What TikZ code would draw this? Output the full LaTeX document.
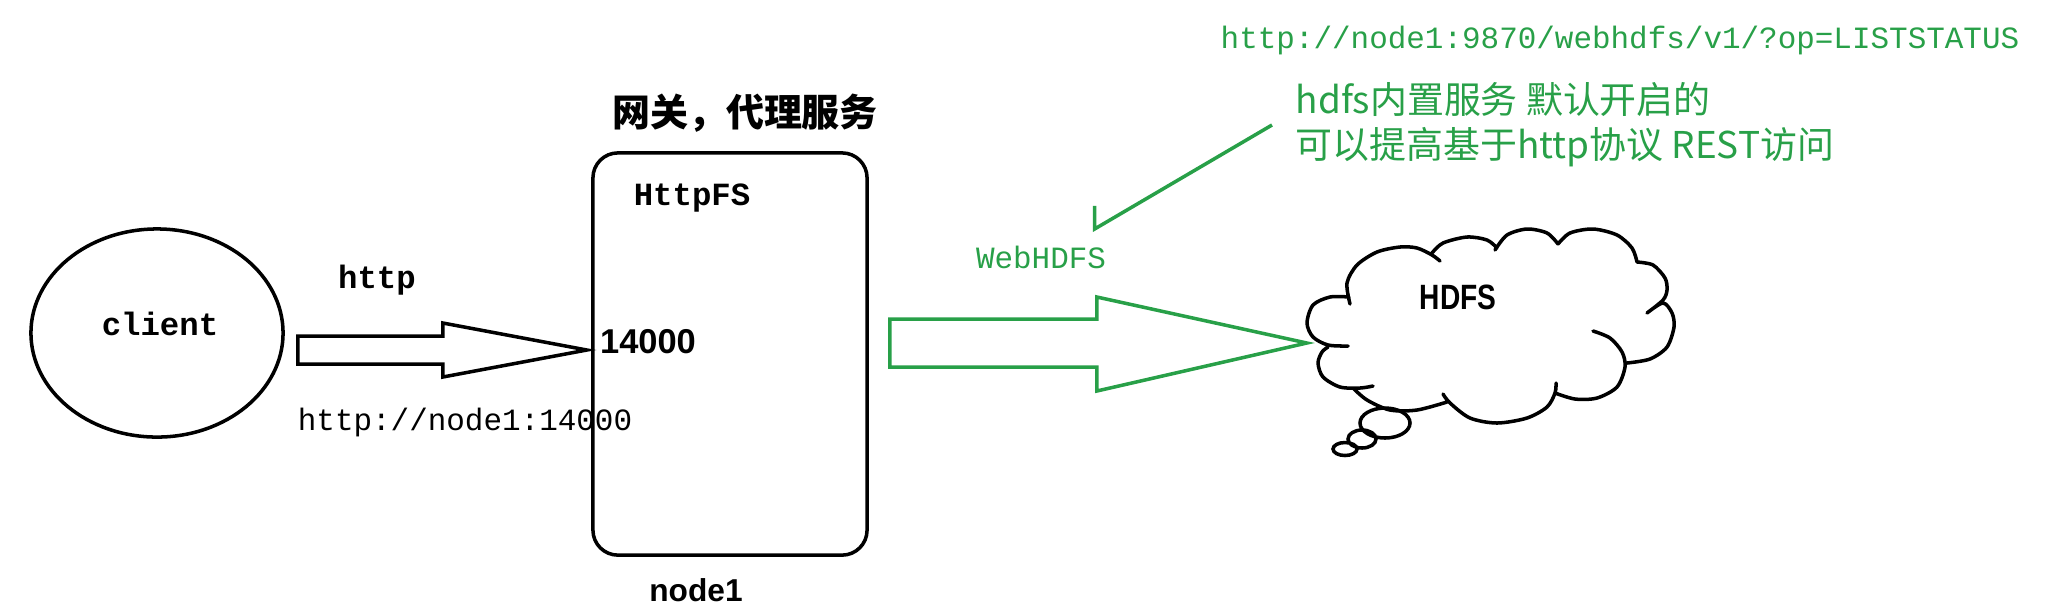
\documentclass[tikz,border=0pt]{standalone}
\usepackage{fontspec}
\setsansfont{Liberation Sans}
\setmonofont{Liberation Mono}
\newfontfamily\cjk{Noto Sans CJK SC}
\usetikzlibrary{shapes.geometric, calc}
\definecolor{webgreen}{RGB}{40,160,72}

\tikzset{
  outline/.style={draw, line width=1pt},
  monob/.style={font=\fontsize{9.2}{10}\selectfont\ttfamily\bfseries, inner sep=0pt},
  mono/.style={font=\fontsize{8.8}{10}\selectfont\ttfamily, inner sep=0pt},
  sansb/.style={font=\fontsize{9.8}{11}\selectfont\sffamily\bfseries, inner sep=0pt},
  greentxt/.style={text=webgreen, inner sep=0pt},
  fatarrow/.style={line width=1pt, line join=miter},
}

\begin{document}
\begin{tikzpicture}[x=0.01cm, y=-0.01cm]
    \useasboundingbox (0,0) rectangle (2046,614);

    % client side
    \node[outline, ellipse, minimum width=2.52cm, minimum height=2.08cm] (client) at (157,333) {};
    \node[monob] (clientlbl) at (160,324) {client};
    \node[monob] (proto) at (377,280) {http};
    \node[mono] (gwurl) at (465,422) {http://node1:14000};

    % gateway
    \node[outline, rounded corners=0.25cm, minimum width=2.74cm, minimum height=4.02cm] (gw) at (730,354) {};
    \node[font=\fontsize{10.8}{12}\selectfont\cjk\bfseries, inner sep=0pt] (gwtitle) at (745,113) {网关，代理服务};
    \node[monob] (httpfs) at (692,198) {HttpFS};
    \node[sansb] (port) at (648,342) {14000};
    \node[sansb, font=\fontsize{9}{10}\selectfont\sffamily\bfseries] (host) at (696,590) {node1};

    \coordinate (t1) at ($(client.east)+(13,3)$);
    \draw[fatarrow] (t1) -- ++(145,0) -- ++(0,-13) -- ++(144,27) -- ++(-144,27)
        -- ++(0,-13) -- ++(-145,0) -- cycle;

    % hdfs cloud, bump by bump
    \draw[line width=1pt, line cap=round]
        plot[smooth] coordinates {(1440,261) (1432,255) (1417,248) (1400,247) (1377,252) (1357,265) (1347,283) (1350,304)}
        plot[smooth] coordinates {(1349,297) (1330,297) (1313,305) (1307,323) (1313,337) (1328,345) (1348,346)}
        plot[smooth] coordinates {(1328,347) (1322,352) (1318,363) (1323,377) (1340,387) (1360,388) (1373,386)}
        plot[smooth] coordinates {(1353,388) (1367,400) (1390,410) (1417,410) (1447,402)}
        plot[smooth] coordinates {(1443,394) (1450,403) (1470,418) (1497,423) (1527,418) (1547,407) (1555,393) (1556,383)}
        plot[smooth] coordinates {(1593,331) (1610,338) (1622,352) (1625,367) (1617,387) (1597,398) (1575,399) (1555,393)}
        plot[smooth] coordinates {(1647,313) (1663,303) (1672,313) (1674,327) (1667,347) (1650,359) (1627,363)}
        plot[smooth] coordinates {(1637,262) (1653,265) (1665,278) (1667,290) (1663,300) (1647,313)}
        plot[smooth] coordinates {(1558,244) (1570,233) (1593,229) (1617,235) (1632,248) (1637,262)}
        plot[smooth] coordinates {(1495,250) (1507,235) (1527,229) (1547,233) (1558,244)}
        plot[smooth] coordinates {(1432,253) (1443,243) (1467,237) (1487,240) (1497,248)};
    \draw[line width=1pt] (1385,423) ellipse [x radius=25, y radius=15]
        (1362,439) ellipse [x radius=14, y radius=9]
        (1345,449) ellipse [x radius=12, y radius=6.5];
    \node[font=\fontsize{10}{11}\selectfont\sffamily\bfseries, inner sep=0pt] (hdfs) at (1458,297) {\scalebox{0.8}[1]{HDFS}};

    \coordinate (t2) at ($(gw.east)+(21,-35)$);
    \draw[fatarrow, webgreen] (t2) -- ++(207,0) -- ++(0,-22) -- ++(210,46) -- ++(-210,48)
        -- ++(0,-24) -- ++(-207,0) -- cycle;

    % webhdfs notes
    \node[mono, greentxt] (resturl) at (1620,40) {http://node1:9870/webhdfs/v1/?op=LISTSTATUS};
    \node[greentxt, anchor=west, align=left, font=\fontsize{10.5}{12.8}\selectfont\cjk] (note) at (1295,125)
        {hdfs内置服务 默认开启的\\可以提高基于http协议 REST访问};
    \node[mono, greentxt] (webhdfs) at (1041,257) {WebHDFS};
    \coordinate (tick) at ($(webhdfs.north east)+(-12,-16)$);
    \draw[webgreen, line width=1pt] ($(note.west)+(-23,0)$) -- (tick) -- ++(0,-23);
\end{tikzpicture}
\end{document}
